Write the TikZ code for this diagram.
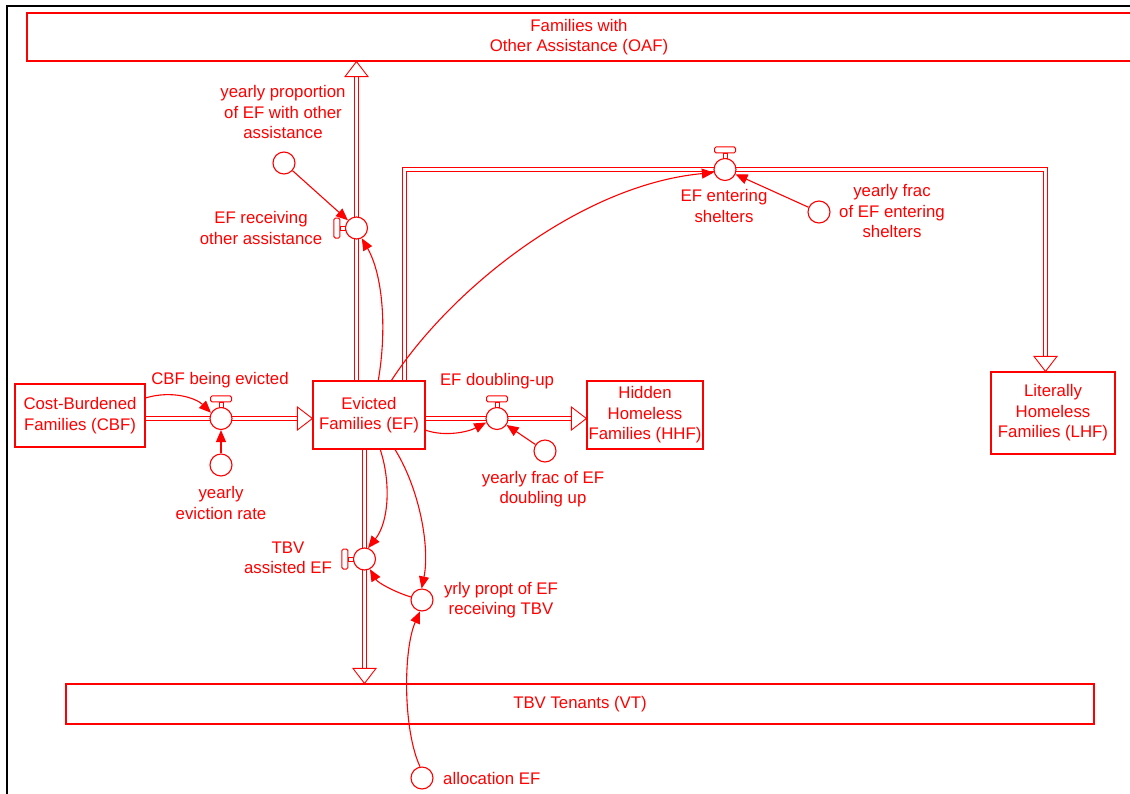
\documentclass[tikz,border=0pt]{standalone}
\usepackage{fontspec}
\setmainfont{Liberation Sans}
\usetikzlibrary{arrows.meta,calc,backgrounds}
% arrow heads of the material flows (hollow triangles)
\newcommand\headright[1]{\draw[flowhead] #1 -- ++(-15,-11.5) -- ++(0,23) -- cycle;}
\newcommand\headup[1]{\draw[flowhead] #1 -- ++(-11.5,15) -- ++(23,0) -- cycle;}
\newcommand\headdown[1]{\draw[flowhead] #1 -- ++(-11.5,-15) -- ++(23,0) -- cycle;}
% straight pipe segments: a red band with a white core
\newcommand\hpipe[2]{%
  \fill[red] ($#1+(0,-2.5)$) rectangle ($#2+(0,2.5)$);
  \fill[white] ($#1+(0,-1.5)$) rectangle ($#2+(0,1.5)$);}
\newcommand\vpipe[2]{%
  \fill[red] ($#1+(-2.5,0)$) rectangle ($#2+(2.5,0)$);
  \fill[white] ($#1+(-1.5,0)$) rectangle ($#2+(1.5,0)$);}
\begin{document}
\begin{tikzpicture}[x=1pt,y=-1pt,
  every node/.style={font=\fontsize{16.8}{20.5}\selectfont, text=red},
  stock/.style={draw=red, line width=1.2pt, fill=white, inner sep=0pt, align=center},
  valve/.style={circle, draw=red, line width=1.1pt, fill=white, minimum size=22pt, inner sep=0pt},
  aux/.style={circle, draw=red, line width=1.1pt, fill=white, minimum size=22pt, inner sep=0pt},
  txt/.style={align=center, inner sep=0pt},
  flowhead/.style={draw=red, line width=0.9pt, fill=white, line join=miter},
  handle/.style={draw=red, line width=1pt, fill=white, rounded corners=1.5pt},
  link/.style={draw=red, line width=1.1pt, -{Triangle[length=12pt,width=10pt]}},
]
\useasboundingbox (0,0) rectangle (1130,793);

% stocks
\node[stock, minimum width=1104pt, minimum height=48pt] (OAF) at (579,37) {Families with\\Other Assistance (OAF)};
\node[stock, minimum width=1028pt, minimum height=40pt] (VT) at (580,704) {TBV Tenants (VT)};
\node[stock, minimum width=130pt, minimum height=63pt] (CBF) at (80,415.5) {Cost-Burdened\\Families (CBF)};
\node[stock, minimum width=112pt, minimum height=68pt] (EF) at (369,415) {Evicted\\Families (EF)};
\node[stock, minimum width=116pt, minimum height=68pt] (HHF) at (645,415) {Hidden\\Homeless\\Families (HHF)};
\node[stock, minimum width=124pt, minimum height=82pt] (LHF) at (1053,413) {Literally\\Homeless\\Families (LHF)};

% valves
\node[valve] (v1) at (221,418.5) {};
\node[valve] (v2) at (497,418.5) {};
\node[valve] (v3) at (356.5,228) {};
\node[valve] (v4) at (725,169.5) {};
\node[valve] (v5) at (364.5,559) {};

% auxiliaries
\node[aux] (c1) at (221,465) {};
\node[aux] (c2) at (545,451) {};
\node[aux] (c3) at (284,163) {};
\node[aux] (c4) at (819,212) {};
\node[aux] (c5) at (422,600) {};
\node[aux] (c6) at (422,778) {};

% pipes and page underneath the nodes
\begin{pgfonlayer}{background}
  \fill[white] (0,0) rectangle (1130,793);
  % window frame
  \fill[black] (6,5) rectangle (8,800);
  \fill[black] (6,5) rectangle (1140,7);

  \hpipe{(CBF.center |- v1)}{(v1.center)}
  \hpipe{(v1.center)}{($(EF.west |- v1)+(-14,0)$)}
  \hpipe{(EF.center |- v2)}{(v2.center)}
  \hpipe{(v2.center)}{($(HHF.west |- v2)+(-14,0)$)}
  \vpipe{(EF.center -| v3)}{(v3.center)}
  \vpipe{(v3.center)}{($(OAF.south -| v3)+(0,14)$)}
  \vpipe{(EF.center -| v5)}{(v5.center)}
  \vpipe{(v5.center)}{($(VT.north -| v5)+(0,-14)$)}

  % pipe from EF round the top to LHF
  \coordinate (sa) at ($(EF.center)+(35.5,0)$);
  \coordinate (sb) at (sa |- v4);
  \coordinate (sd) at ($(LHF.north)+(-7.5,-14)$);
  \coordinate (sc) at (sd |- v4);
  \fill[red] ($(sa)+(-2.5,0)$) rectangle ($(sb)+(2.5,-2.5)$);
  \fill[red] ($(sb)+(-2.5,-2.5)$) rectangle ($(sc)+(2.5,2.5)$);
  \fill[red] ($(sc)+(-2.5,-2.5)$) rectangle ($(sd)+(2.5,0)$);
  \fill[white] ($(sa)+(-1.5,0)$) rectangle ($(sb)+(1.5,-1.5)$);
  \fill[white] ($(sb)+(-1.5,-1.5)$) rectangle ($(sc)+(1.5,1.5)$);
  \fill[white] ($(sc)+(-1.5,-1.5)$) rectangle ($(sd)+(1.5,0)$);
\end{pgfonlayer}

% flow arrow heads
\headright{(EF.west |- v1)}
\headright{(HHF.west |- v2)}
\headup{(OAF.south -| v3)}
\headdown{($(LHF.north)+(-7.5,0)$)}
\headdown{(VT.north -| v5)}

% valve handles
\foreach \vv in {v1,v2,v4}{
  \draw[draw=red, line width=0.8pt, fill=white] ($(\vv.north)+(-2,0)$) rectangle ++(4,-5);
  \draw[handle] ($(\vv.north)+(-10.5,-5)$) rectangle ++(21,-6);
}
\foreach \vv in {v3,v5}{
  \draw[draw=red, line width=0.8pt, fill=white] ($(\vv.west)+(0,-2)$) rectangle ++(-5,4);
  \draw[handle] ($(\vv.west)+(-5,-10)$) rectangle ++(-6,20);
}

% information links
\draw[link] (CBF.15) .. controls (172,390) and (196,398) .. (v1.150);
\draw[link] (c1) -- (v1);
\draw[link] (EF.-15) .. controls (445,437) and (468,432) .. (v2.-160);
\draw[link] (c2) -- (v2);
\draw[link] (c3) -- (v3);
\draw[link] (EF.75) .. controls (387,330) and (383,275) .. (v3.-63);
\draw[link] (EF.57) .. controls (450,290) and (580,185) .. (v4.195);
\draw[link] (c4) -- (v4);
\draw[link] (EF.-72) .. controls (391,482) and (389,522) .. (v5.72);
\draw[link] (EF.-53) .. controls (420,490) and (430,548) .. (c5.92);
\draw[link] (c5.165) .. controls (395,592) and (378,583) .. (v5.-62);
\draw[link] (c6.100) .. controls (403,730) and (403,650) .. (c5.-100);

% labels
\node[txt] (t1) at (220,380) {CBF being evicted};
\node[txt] (t2) at (221,503) {yearly\\eviction rate};
\node[txt] (t3) at (497,381) {EF doubling-up};
\node[txt] (t4) at (543,489) {yearly frac of EF\\doubling up};
\node[txt] (t5) at (283,112) {yearly proportion\\of EF with other\\assistance};
\node[txt] (t6) at (261,228) {EF receiving\\other assistance};
\node[txt] (t7) at (724,206) {EF entering\\shelters};
\node[txt] (t8) at (892,211) {yearly frac\\of EF entering\\shelters};
\node[txt] (t9) at (288,558) {TBV\\assisted EF};
\node[txt] (t10) at (501,600) {yrly propt of EF\\receiving TBV};
\node[txt, anchor=west] (t11) at (443,778) {allocation EF};
\end{tikzpicture}
\end{document}
